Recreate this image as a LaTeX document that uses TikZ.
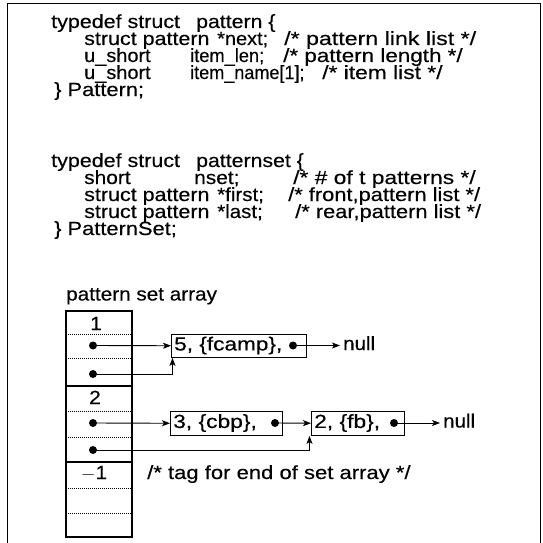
\documentclass[tikz,border=0pt]{standalone}
\usepackage{fontspec}
\usepackage{graphicx}
\setmainfont{Liberation Sans}[FakeBold=0.3]
\usetikzlibrary{arrows.meta}
\newcommand{\reffont}{\fontsize{19}{20}\selectfont}
\newcommand{\sx}[2]{\scalebox{#1}[1]{#2}}
\begin{document}
\begin{tikzpicture}[x=1pt,y=-1pt,
  code/.style={anchor=base west,inner sep=0pt,font=\reffont,text height=12.5pt,text depth=3.5pt},
  lbl/.style={anchor=base,inner sep=0pt,font=\reffont,text height=12.5pt,text depth=3.5pt},
  box/.style={draw,line width=0.9pt,rectangle,inner sep=0pt,anchor=north west},
  pdot/.style={circle,fill,inner sep=0pt,minimum size=8pt},
  arr/.style={line width=0.9pt,-{Stealth[length=8pt,width=6pt,inset=2pt]}},
  solidrow/.style={line width=1.1pt},
  dotrow/.style={line width=0.7pt,dash pattern=on 1pt off 1pt}]
\useasboundingbox (0,0) rectangle (543,543);
% frame
\draw[line width=0.8pt] (7,543) -- (7,3) -- (540,3) -- (540,543);
% block 1
\node[code] (t1) at (51,28) {\sx{1.13}{typedef struct}};
\node[code] (t1b) at (196,28) {\sx{1.12}{pattern \{}};
\node[code] (t2) at (84,45) {\sx{1.13}{struct pattern}};
\node[code] (t2b) at (217,45) {\sx{1.05}{*next;}};
\node[code] (t2c) at (284,45) {\sx{1.22}{/* pattern link list */}};
\node[code] (t3) at (84,62) {\sx{1.05}{u\_short}};
\node[code] (t3b) at (190,62) {\sx{0.96}{item\_len;}};
\node[code] (t3c) at (283,62) {\sx{1.18}{/* pattern length */}};
\node[code] (t4) at (84,79) {\sx{1.05}{u\_short}};
\node[code] (t4b) at (190,79) {\sx{0.95}{item\_name[1];}};
\node[code] (t4c) at (322,79) {\sx{1.2}{/* item list */}};
\node[code] (t5) at (54,96) {\sx{1.15}{\} Pattern;}};
% block 2
\node[code] (s1) at (51,167) {\sx{1.13}{typedef struct}};
\node[code] (s1b) at (196,167) {\sx{1.12}{patternset \{}};
\node[code] (s2) at (84,184) {\sx{1.1}{short}};
\node[code] (s2b) at (194,184) {\sx{1.1}{nset;}};
\node[code] (s2c) at (293,184) {\sx{1.2}{/* \# of t patterns */}};
\node[code] (s3) at (84,201) {\sx{1.13}{struct pattern}};
\node[code] (s3b) at (217,201) {\sx{1.08}{*first;}};
\node[code] (s3c) at (288,201) {\sx{1.15}{/* front,pattern list */}};
\node[code] (s4) at (84,218) {\sx{1.13}{struct pattern}};
\node[code] (s4b) at (217,218) {\sx{1.08}{*last;}};
\node[code] (s4c) at (295,218) {\sx{1.15}{/* rear,pattern list */}};
\node[code] (s5) at (54,235) {\sx{1.15}{\} PatternSet;}};
% array
\node[code] (arrlbl) at (66,300.5) {\sx{1.09}{pattern set array}};
\draw[solidrow] (66,311) rectangle (132,537);
\foreach \yy in {334,358,411,437,488,513} \draw[dotrow] (66,\yy) -- (132,\yy);
\foreach \yy in {386,462} \draw[solidrow] (66,\yy) -- (132,\yy);
\node[lbl] (n1) at (96,330) {\sx{1.1}{1}};
\node[lbl] (n2) at (95,404) {\sx{1.1}{2}};
\node[lbl] (n3) at (94,479) {\sx{1.1}{$-$1}};
\node[code] (tag) at (147,479) {\sx{1.16}{/* tag for end of set array */}};
% pointer dots in array
\node[pdot] (d1) at (93,345.5) {};
\node[pdot] (d2) at (93,374) {};
\node[pdot] (d3) at (93,423) {};
\node[pdot] (d4) at (93,450) {};
% list boxes
\node[box,minimum width=135pt,minimum height=23pt] (A) at (171,334) {};
\node[code,anchor=west] (At) at ([xshift=3pt]A.west) {\sx{1.19}{5, \{fcamp\},}};
\node[pdot] (dA) at (293,345.5) {};
\node[code,anchor=west,inner sep=3pt] (nullA) at (340,345.5) {\sx{1.08}{null}};
\node[box,minimum width=112pt,minimum height=24pt] (B) at (170,411) {};
\node[code,anchor=west] (Bt) at ([xshift=3pt]B.west) {\sx{1.2}{3, \{cbp\},}};
\node[pdot] (dB) at (275,423) {};
\node[box,minimum width=93pt,minimum height=24pt] (C) at (311,411) {};
\node[code,anchor=west] (Ct) at ([xshift=3pt]C.west) {\sx{1.2}{2, \{fb\},}};
\node[pdot] (dC) at (394,423) {};
\node[code,anchor=west,inner sep=3pt] (nullC) at (440,423) {\sx{1.08}{null}};
% connectors
\draw[arr] (d1) -- (A);
\draw[arr] (d2) -| ([xshift=1.5pt]A.south west);
\draw[arr] (dA.center) -- (nullA);
\draw[arr] (d3) -- (B);
\draw[arr] (dB.center) -- (C);
\draw[arr] (dC.center) -- (nullC);
\draw[arr] (d4) -| ([xshift=-1.5pt]C.south west);
\end{tikzpicture}
\end{document}
